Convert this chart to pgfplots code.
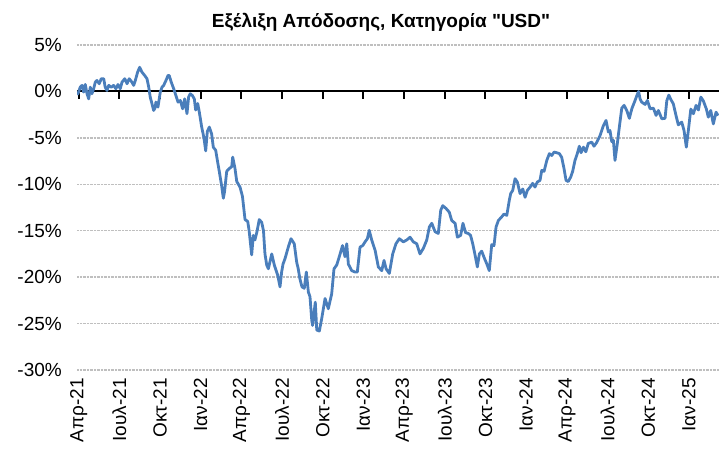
\documentclass[border=0pt]{standalone}
\usepackage{fontspec}
\setmainfont{Liberation Sans}[Ligatures=TeXOff]
\usepackage{pgfplots}
\pgfplotsset{compat=1.18}
\definecolor{serieblue}{HTML}{4A7EBB}
\definecolor{gridgray}{HTML}{BFBFBF}
\begin{document}
\begin{tikzpicture}
\begin{axis}[
  scale only axis, width=642pt, height=325pt,
  xmin=2.88, xmax=50.22, ymin=-30, ymax=5,
  xtick={3,6,...,48},
  axis line style={draw=none},
  ytick={-30,-25,...,5},
  yticklabels={-30\%,-25\%,-20\%,-15\%,-10\%,-5\%,0\%,5\%},
  xticklabels={Απρ-21,Ιουλ-21,Οκτ-21,Ιαν-22,Απρ-22,Ιουλ-22,Οκτ-22,Ιαν-23,Απρ-23,Ιουλ-23,Οκτ-23,Ιαν-24,Απρ-24,Ιουλ-24,Οκτ-24,Ιαν-25},
  major tick length=0pt,
  tick label style={font=\fontsize{19}{22}\selectfont},
  yticklabel style={inner sep=0pt, xshift=-15pt},
  xticklabel style={rotate=90, anchor=east, inner sep=0pt},
  xticklabel shift=8pt,
  ymajorgrids,
  grid style={gridgray, densely dotted, line width=1.3pt},
  unbounded coords=jump,
]
% zero line and its month ticks
\addplot[black, line width=2pt] coordinates {(2.88,0) (50.22,0)};
\addplot[black, line width=2pt] coordinates {
(3,0) (3,-0.8) (3,nan) (6,0) (6,-0.8) (6,nan) (9,0) (9,-0.8) (9,nan) (12,0) (12,-0.8) (12,nan)
(15,0) (15,-0.8) (15,nan) (18,0) (18,-0.8) (18,nan) (21,0) (21,-0.8) (21,nan) (24,0) (24,-0.8) (24,nan)
(27,0) (27,-0.8) (27,nan) (30,0) (30,-0.8) (30,nan) (33,0) (33,-0.8) (33,nan) (36,0) (36,-0.8) (36,nan)
(39,0) (39,-0.8) (39,nan) (42,0) (42,-0.8) (42,nan) (45,0) (45,-0.8) (45,nan) (48,0) (48,-0.8)};
\addplot[serieblue, line width=2.8pt, line join=round] coordinates {
(2.88,-0.3) (2.95,-0.25) (3.12,0.46) (3.25,0.65) (3.37,-0.07) (3.49,0.75) (3.62,-0.25) (3.74,-0.8) (3.86,0.46) (3.98,-0.25) (4.11,0.29) (4.23,1.0) (4.35,1.18) (4.52,0.83) (4.67,1.37) (4.85,1.37) (4.96,0.46) (5.09,0.1) (5.22,0.65) (5.41,0.46) (5.58,0.65) (5.75,0.29) (5.90,0.75) (6.07,0.29) (6.20,1.0) (6.40,1.37) (6.57,0.83) (6.73,1.37) (6.93,1.0) (7.06,0.65) (7.18,1.18) (7.35,2.08) (7.50,2.6) (7.67,2.08) (7.87,1.72) (8.04,1.37) (8.17,0.46) (8.28,-0.61) (8.41,-1.33) (8.53,-2.05) (8.63,-1.8) (8.70,-1.15) (8.85,-1.69) (9.02,-0.07) (9.15,0.46) (9.27,0.65) (9.44,1.18) (9.59,1.72) (9.68,1.72) (9.83,1.0) (10.01,0.29) (10.13,-0.25) (10.33,-1.15) (10.50,-0.97) (10.67,-1.87) (10.82,-0.8) (10.99,-2.4) (11.11,-0.61) (11.23,-0.25) (11.38,-0.43) (11.53,-0.8) (11.63,-2.0) (11.78,-1.3) (11.90,-2.23) (12.07,-3.8) (12.24,-5.0) (12.37,-6.4) (12.49,-4.3) (12.64,-3.84) (12.81,-4.6) (12.93,-6.0) (13.11,-6.35) (13.23,-7.43) (13.37,-8.6) (13.55,-10.2) (13.67,-11.5) (13.76,-10.8) (13.92,-8.6) (14.11,-8.3) (14.29,-8.1) (14.36,-7.07) (14.53,-8.3) (14.66,-9.7) (14.90,-10.3) (15.08,-11.3) (15.27,-13.8) (15.47,-14.0) (15.58,-15.1) (15.76,-17.6) (15.88,-15.5) (16.00,-16.0) (16.15,-15.1) (16.32,-13.8) (16.50,-14.1) (16.63,-15.0) (16.74,-17.5) (16.87,-18.7) (16.99,-19.1) (17.24,-17.5) (17.43,-18.7) (17.68,-19.8) (17.85,-21.05) (17.97,-19.45) (18.07,-18.6) (18.22,-18.0) (18.46,-16.76) (18.66,-15.86) (18.90,-16.4) (19.08,-18.4) (19.18,-19.0) (19.32,-20.2) (19.47,-21.05) (19.64,-21.2) (19.79,-19.45) (19.94,-21.6) (20.06,-22.1) (20.19,-24.65) (20.25,-25.2) (20.45,-22.7) (20.56,-25.7) (20.75,-25.8) (20.92,-24.5) (21.17,-22.3) (21.41,-23.4) (21.66,-21.8) (21.83,-19.1) (22.03,-18.7) (22.22,-17.8) (22.46,-16.6) (22.64,-17.8) (22.77,-16.4) (22.89,-18.6) (23.14,-19.3) (23.38,-19.45) (23.55,-19.45) (23.75,-16.76) (23.95,-16.6) (24.12,-16.2) (24.29,-15.86) (24.43,-14.96) (24.61,-16.0) (24.86,-17.1) (25.10,-18.9) (25.35,-19.3) (25.52,-18.2) (25.67,-19.1) (25.91,-19.6) (26.16,-17.5) (26.40,-16.4) (26.65,-15.86) (26.94,-16.2) (27.19,-16.0) (27.44,-15.7) (27.68,-16.2) (27.93,-16.4) (28.17,-17.5) (28.42,-16.9) (28.67,-16.0) (28.86,-14.6) (29.04,-14.2) (29.28,-15.1) (29.52,-15.3) (29.70,-12.8) (29.85,-12.3) (30.09,-12.6) (30.33,-13.0) (30.51,-13.9) (30.76,-14.2) (30.93,-15.7) (31.17,-15.5) (31.34,-14.2) (31.53,-15.2) (31.74,-15.3) (31.90,-15.5) (32.06,-16.4) (32.23,-17.6) (32.40,-18.9) (32.55,-17.5) (32.72,-17.2) (32.93,-18.0) (33.09,-18.55) (33.28,-19.3) (33.46,-16.5) (33.63,-16.6) (33.78,-14.6) (33.95,-13.9) (34.20,-13.5) (34.37,-13.2) (34.57,-13.35) (34.76,-11.7) (34.86,-11.0) (35.01,-10.65) (35.18,-9.4) (35.35,-9.76) (35.55,-11.0) (35.75,-10.5) (35.92,-11.4) (36.09,-10.65) (36.29,-10.3) (36.48,-9.9) (36.65,-10.3) (36.82,-9.76) (37.02,-9.58) (37.15,-8.5) (37.32,-8.6) (37.52,-7.43) (37.71,-6.7) (37.89,-6.9) (38.06,-6.53) (38.25,-6.6) (38.45,-6.7) (38.62,-7.1) (38.79,-8.3) (38.94,-9.58) (39.11,-9.7) (39.29,-9.2) (39.43,-8.6) (39.60,-7.43) (39.77,-6.7) (39.92,-5.9) (40.05,-6.6) (40.22,-6.0) (40.40,-6.5) (40.58,-5.6) (40.84,-5.46) (41.00,-5.9) (41.20,-5.5) (41.45,-4.74) (41.69,-3.7) (41.89,-3.12) (42.06,-4.38) (42.18,-4.2) (42.31,-5.4) (42.43,-5.27) (42.55,-7.43) (42.72,-5.63) (42.87,-3.84) (43.05,-1.8) (43.22,-1.5) (43.42,-2.05) (43.61,-2.9) (43.79,-1.87) (44.03,-0.97) (44.20,-0.3) (44.29,0.0) (44.40,-0.8) (44.52,-1.15) (44.77,-1.4) (44.94,-0.97) (45.14,-1.87) (45.38,-1.8) (45.58,-2.58) (45.75,-2.05) (46.00,-2.94) (46.24,-2.9) (46.37,-1.0) (46.52,-0.4) (46.68,-0.9) (46.85,-1.33) (47.05,-2.6) (47.22,-3.6) (47.47,-3.3) (47.64,-4.2) (47.81,-6.0) (47.96,-4.2) (48.14,-1.9) (48.33,-2.4) (48.53,-1.5) (48.70,-2.0) (48.88,-0.61) (49.06,-1.0) (49.29,-1.9) (49.43,-2.77) (49.61,-2.05) (49.80,-3.5) (50.00,-2.23) (50.15,-2.6)
};
\end{axis}
\node[anchor=base, font=\bfseries\fontsize{19}{22}\selectfont] at ([xshift=304pt,yshift=18pt]current axis.north west) {Εξέλιξη Απόδοσης, Κατηγορία "USD"};
\pgfresetboundingbox
\path[use as bounding box] ([xshift=-77pt,yshift=-83pt]current axis.south west) rectangle ++(719pt,453pt);
\end{tikzpicture}
\end{document}
